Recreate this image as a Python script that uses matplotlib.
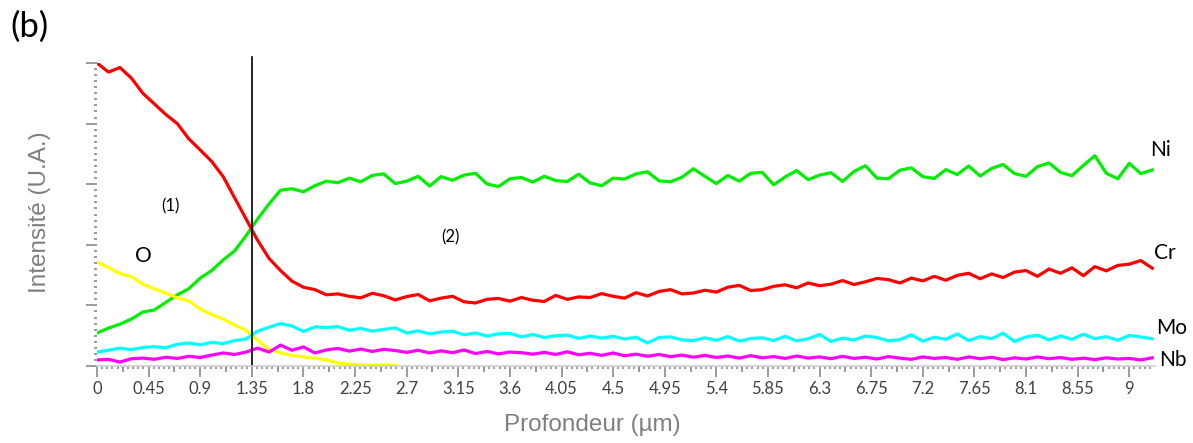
import numpy as np
import matplotlib
matplotlib.use('Agg')
import matplotlib.pyplot as plt
from matplotlib.ticker import MultipleLocator, FixedLocator, NullFormatter

# depth sampling (µm), one point every 0.1 µm
depth = np.round(np.arange(0, 9.25, 0.1), 2)

# intensities (arbitrary units, 0-100)
cr = [100.0, 97.0, 98.5, 95.0, 90.0, 86.5, 83.0, 80.0, 75.0, 71.3,
      67.5, 62.5, 55.5, 48.5, 41.5, 35.5, 31.5, 28.0, 26.0, 25.2,
      23.5, 23.8, 23.0,
      22.5, 24.0, 23.2, 21.8, 22.9, 23.6, 21.5, 22.4, 23.0, 21.2,
      20.8, 22.0, 22.3, 21.4, 22.6, 21.7, 21.3, 23.3, 22.0, 22.8,
      22.6, 23.9, 23.0, 22.4, 24.2, 23.1, 24.6, 25.2, 23.8, 24.1,
      25.0, 24.4, 26.0, 26.6, 24.9, 25.2, 26.3, 26.8, 25.8, 27.4,
      26.5, 27.0, 28.2, 26.9, 27.8, 28.9, 28.5, 27.4, 29.0, 28.1,
      29.6, 28.3, 29.9, 30.6, 28.8, 30.4, 29.2, 31.0, 31.5, 29.6,
      32.0, 30.6, 32.4, 29.8, 32.8, 31.4, 33.2, 33.6, 34.8, 32.3]

ni = [10.9, 12.5, 13.8, 15.5, 17.8, 18.5, 21.0, 23.5, 25.5, 29.0,
      31.5, 35.0, 38.0, 43.0, 48.5, 53.5, 58.0, 58.5, 57.5, 59.5,
      61.0, 60.5, 62.0,
      60.8, 62.9, 63.4, 60.2, 61.0, 62.6, 59.4, 62.5, 61.3, 63.0,
      63.6, 60.1, 59.2, 61.8, 62.2, 60.7, 62.6, 61.2, 60.9, 63.3,
      60.4, 59.5, 62.0, 61.7, 63.4, 64.1, 61.1, 60.8, 62.3, 65.1,
      62.6, 60.2, 62.9, 61.0, 63.6, 63.9, 59.8, 62.4, 64.5, 61.5,
      63.0, 63.8, 60.9, 64.2, 66.1, 62.0, 61.8, 64.6, 65.4, 62.5,
      61.9, 64.8, 63.2, 66.0, 62.7, 65.2, 66.5, 63.5, 62.6, 65.8,
      67.0, 63.9, 62.8, 66.2, 69.4, 63.6, 61.8, 66.9, 63.5, 64.7]

# oxygen only measured down to ~2.6 µm
o = [34.3, 32.5, 30.5, 29.5, 27.0, 25.5, 24.0, 22.5, 21.5, 18.8,
     17.0, 15.5, 13.5, 11.8, 8.5, 5.5, 4.3, 3.5, 3.0, 2.6,
     2.0, 1.0, 0.6, 0.3, 0.2, 0.3, 0.2]

mo = [4.6, 5.2, 5.9, 5.4, 6.1, 6.4, 6.0, 7.2, 7.6, 7.0,
      7.8, 7.4, 8.4, 8.9, 11.5, 12.8, 14.0, 13.2, 11.4, 12.9,
      12.7, 13.0, 11.8,
      12.4, 11.5, 12.1, 12.6, 10.9, 11.6, 10.6, 11.2, 11.5, 10.3,
      10.9, 9.9, 10.6, 10.8, 9.6, 10.4, 9.4, 10.0, 10.2, 9.1,
      9.9, 9.2, 9.8, 8.9, 9.5, 7.6, 9.4, 9.6, 8.6, 8.4,
      9.3, 8.5, 9.7, 8.2, 9.1, 9.3, 8.4, 9.8, 8.3, 9.0,
      10.4, 8.1, 9.2, 8.6, 9.9, 9.4, 8.3, 8.7, 10.3, 8.2,
      9.5, 8.8, 10.6, 8.4, 9.7, 9.0, 10.8, 8.1, 9.6, 10.2,
      8.6, 9.9, 8.8, 10.5, 9.0, 9.7, 8.5, 10.1, 9.6, 9.0]

nb = [2.0, 2.2, 1.3, 2.4, 2.6, 2.2, 2.9, 2.5, 3.2, 2.8,
      3.6, 4.3, 3.8, 4.6, 5.9, 4.6, 6.9, 5.2, 6.3, 4.3,
      5.3, 5.8, 4.9,
      5.6, 4.8, 5.5, 5.1, 4.5, 5.2, 4.3, 5.0, 4.4, 5.3,
      4.1, 4.8, 4.0, 4.6, 4.4, 3.9, 4.5, 3.8, 4.7, 3.7,
      4.2, 3.5, 4.3, 3.4, 3.9, 3.2, 3.8, 3.1, 3.6, 2.9,
      3.5, 2.8, 3.3, 2.6, 3.4, 2.7, 3.1, 2.5, 3.3, 2.6,
      3.0, 2.4, 3.2, 2.5, 2.9, 2.3, 3.1, 2.6, 2.2, 3.0,
      2.5, 2.8, 2.2, 3.0, 2.4, 2.9, 2.1, 2.7, 2.3, 3.0,
      2.4, 2.8, 2.2, 2.6, 2.1, 2.7, 2.3, 2.5, 2.0, 2.7]

xtick_vals = [0, 0.45, 0.9, 1.35, 1.8, 2.25, 2.7, 3.15, 3.6, 4.05, 4.5,
              4.95, 5.4, 5.85, 6.3, 6.75, 7.2, 7.65, 8.1, 8.55, 9]
xtick_labels = ['0', '0.45', '0.9', '1.35', '1.8', '2.25', '2.7', '3.15', '3.6',
                '4.05', '4.5', '4.95', '5.4', '5.85', '6.3', '6.75', '7.2',
                '7.65', '8.1', '8.55', '9']

fig = plt.figure(figsize=(11.93, 4.43), dpi=100)
ax = fig.add_axes([97 / 1193, 77 / 443, 1057.5 / 1193, 303 / 443])

lw = 2.3
ax.plot(depth, ni, color='#00ee00', lw=lw)
ax.plot(depth, cr, color='#ff0000', lw=lw)
ax.plot(depth[:len(o)], o, color='#ffff00', lw=lw)
ax.plot(depth, mo, color='#00ffff', lw=lw)
ax.plot(depth, nb, color='#ff00ff', lw=lw)

# interface between zone (1) and zone (2)
ax.axvline(1.35, ymin=0, ymax=1.02, color='black', lw=1.2, clip_on=False)

ax.set_xlim(0, 9.22)
ax.set_ylim(0, 100)

for s in ['top', 'right', 'left']:
    ax.spines[s].set_visible(False)
ax.spines['bottom'].set_color('#d0d0d0')
ax.spines['bottom'].set_linewidth(1.2)

tick_grey = '#8a8a8a'
ax.xaxis.set_major_locator(FixedLocator(xtick_vals))
ax.set_xticklabels(xtick_labels, fontsize=12, color='#404040', family='Lato')
ax.xaxis.set_minor_locator(MultipleLocator(0.045))
ax.tick_params(axis='x', which='major', length=8, width=1.2, color=tick_grey, pad=3)
ax.tick_params(axis='x', which='minor', length=2.2, width=1.2, color=tick_grey)

# medium ticks halfway between labelled ones
sec = ax.secondary_xaxis('bottom')
sec.xaxis.set_major_locator(FixedLocator(np.arange(0.225, 9.22, 0.45)))
sec.xaxis.set_major_formatter(NullFormatter())
sec.tick_params(axis='x', length=4.5, width=1.2, color=tick_grey)
sec.spines['bottom'].set_visible(False)

ax.yaxis.set_major_locator(MultipleLocator(20))
ax.yaxis.set_minor_locator(MultipleLocator(2))
ax.yaxis.set_major_formatter(NullFormatter())
ax.tick_params(axis='y', which='major', length=8, width=1.2, color=tick_grey)
ax.tick_params(axis='y', which='minor', length=2.2, width=1.2, color=tick_grey)

# element labels
lab = dict(fontsize=15, family='Lato', color='black', va='center', ha='left', clip_on=False)
ax.text(9.18, 71.3, 'Ni', **lab)
ax.text(9.215, 37.3, 'Cr', **lab)
ax.text(9.23, 12.5, 'Mo', **lab)
ax.text(9.26, 2.0, 'Nb', **lab)
ax.text(0.40, 36.3, 'O', fontsize=15, family='Lato', ha='center', va='center')
ax.text(0.64, 52.8, '(1)', fontsize=12, family='Lato', ha='center', va='center')
ax.text(3.08, 42.6, '(2)', fontsize=12, family='Lato', ha='center', va='center')

fig.text(592 / 1193, 1 - 425 / 443, 'Profondeur (µm)', fontsize=17.5,
         family='Liberation Sans', color='#7f7f7f', ha='center', va='center')
fig.text(40 / 1193, 1 - 212 / 443, 'Intensité (U.A.)', fontsize=17.5,
         family='Liberation Sans', color='#7f7f7f', ha='center', va='center',
         rotation=90)
fig.text(10 / 1193, 1 - 27 / 443, '(b)', fontsize=25, family='Lato',
         ha='left', va='center')

fig.savefig('out.png', dpi=100)
